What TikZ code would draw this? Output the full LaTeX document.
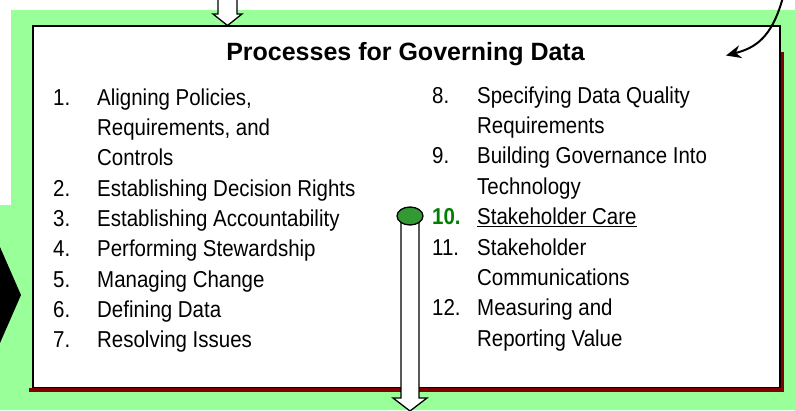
\documentclass[tikz,border=0pt]{standalone}
\usepackage{fontspec}
\setmainfont{Liberation Sans}[FakeStretch=0.89]
\newfontfamily\titlefont{Liberation Sans}
\usetikzlibrary{arrows.meta,shapes.geometric}
\definecolor{bggreen}{RGB}{153,255,153}
\definecolor{shadowred}{RGB}{128,0,0}
\definecolor{numgreen}{RGB}{0,128,0}
\definecolor{ovalgreen}{RGB}{51,153,51}
\begin{document}
\begin{tikzpicture}[x=1pt,y=-1pt,
  item/.style={anchor=base west, inner sep=0pt, font=\fontsize{23}{27}\selectfont},
  blockarrow/.style={draw=black, fill=white, line width=1.3pt, line join=miter},
  titlestyle/.style={anchor=base, inner sep=0pt, font=\titlefont\bfseries\fontsize{25}{30}\selectfont}]
\useasboundingbox (0,0) rectangle (795,410);
\fill[white] (0,0) rectangle (795,410);
% green background
\fill[bggreen] (11,10) -- (795,10) -- (795,410) -- (0,410) -- (0,205) -- (11,205) -- cycle;
% black arrow tip on the left
\fill[black] (0,247) -- (21,295) -- (0,343) -- cycle;
% shadow
\draw[shadowred, line width=4pt] (29,389.5) -- (782,389.5) -- (782,52);
% main box
\node[draw=black, fill=white, line width=1.5pt, minimum width=747pt, minimum height=361.5pt,
      anchor=north west, inner sep=0pt] (box) at (32,25) {};
% top block arrow
\draw[blockarrow] (218,-3) -- (218,14) -- (213,14) -- (227.5,25.5) -- (242,14) -- (237,14) -- (237,-3);
% title
\node[titlestyle] (title) at (405.5,60) {Processes for Governing Data};
% left column
\def\lx{53}\def\lt{97}
\node[item] (n1) at (\lx,105) {1.};
\node[item] (t1) at (\lt,105) {Aligning Policies,};
\node[item] (t1b) at (\lt,135.35) {Requirements, and};
\node[item] (t1c) at (\lt,165.7) {Controls};
\node[item] (n2) at (\lx,196.05) {2.};
\node[item] (t2) at (\lt,196.05) {Establishing Decision Rights};
\node[item] (n3) at (\lx,226.4) {3.};
\node[item] (t3) at (\lt,226.4) {Establishing Accountability};
\node[item] (n4) at (\lx,256.75) {4.};
\node[item] (t4) at (\lt,256.75) {Performing Stewardship};
\node[item] (n5) at (\lx,287.1) {5.};
\node[item] (t5) at (\lt,287.1) {Managing Change};
\node[item] (n6) at (\lx,317.45) {6.};
\node[item] (t6) at (\lt,317.45) {Defining Data};
\node[item] (n7) at (\lx,347.8) {7.};
\node[item] (t7) at (\lt,347.8) {Resolving Issues};
% right column
\def\rx{432}\def\rt{477}
\node[item] (n8) at (\rx,103) {8.};
\node[item] (t8) at (\rt,103) {Specifying Data Quality};
\node[item] (t8b) at (\rt,133.4) {Requirements};
\node[item] (n9) at (\rx,163.8) {9.};
\node[item] (t9) at (\rt,163.8) {Building Governance Into};
\node[item] (t9b) at (\rt,194.2) {Technology};
\node[item, text=numgreen, font=\bfseries\fontsize{23}{27}\selectfont] (n10) at (\rx,224.6) {10.};
\node[item] (t10) at (\rt,224.6) {\underline{Stakeholder Care}};
\node[item] (n11) at (\rx,255) {11.};
\node[item] (t11) at (\rt,255) {Stakeholder};
\node[item] (t11b) at (\rt,285.4) {Communications};
\node[item] (n12) at (\rx,315.8) {12.};
\node[item] (t12) at (\rt,315.8) {Measuring and};
\node[item] (t12b) at (\rt,346.2) {Reporting Value};
% bottom block arrow from oval
\draw[blockarrow] (401,220) -- (401,398) -- (393,398) -- (410,411) -- (427,398) -- (419,398) -- (419,220) -- cycle;
\node[ellipse, draw=black, fill=ovalgreen, line width=1.3pt, minimum width=26pt, minimum height=18pt, inner sep=0pt] (oval) at (410,216) {};
% curved arrow
\coordinate (cstart) at (783,-3);
\coordinate (cend) at (726,55.5);
\draw[line width=2pt, -{Stealth[length=15pt,width=13pt]}] (cstart) .. controls (772,38) and (755,48) .. (cend);
\end{tikzpicture}
\end{document}
